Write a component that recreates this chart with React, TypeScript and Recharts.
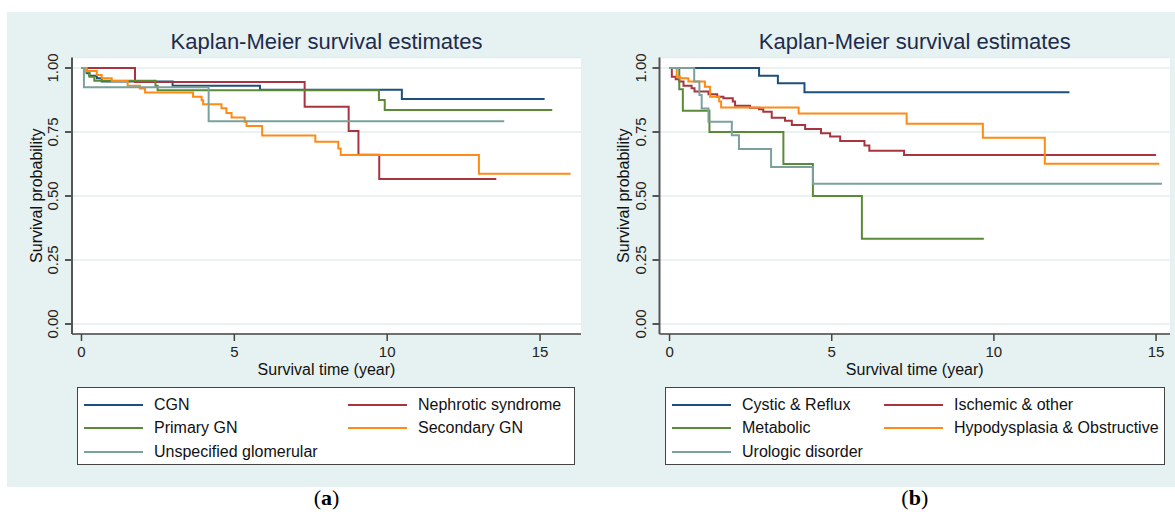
import { LineChart, Line, XAxis, YAxis, CartesianGrid, Label, Legend } from "recharts"

const xTicks = [0, 5, 10, 15]
const yTicks = [0, 0.25, 0.5, 0.75, 1]

// (a) glomerular causes
const cgnTime = [0, 0.17, 0.26, 0.5, 0.66, 2.98, 5.84, 10.48, 15.15]
const cgnSurv = [1, 0.979, 0.97, 0.96, 0.947, 0.931, 0.915, 0.879, 0.879]
const nephTime = [0, 1.75, 7.3, 8.74, 9.06, 9.74, 13.57]
const nephSurv = [1, 0.945, 0.849, 0.754, 0.661, 0.566, 0.566]
const primTime = [0, 0.17, 0.26, 0.42, 2.42, 2.49, 9.73, 9.92, 15.4]
const primSurv = [1, 0.983, 0.966, 0.95, 0.931, 0.913, 0.875, 0.836, 0.836]
const secTime = [0, 0.17, 0.5, 0.66, 0.99, 1.51, 1.91, 2.08, 3.65, 3.93, 3.98, 4.58, 4.74, 4.91, 5.34, 5.4, 5.91, 7.65, 8.4, 8.48, 13.0, 16.0]
const secSurv = [1, 0.988, 0.973, 0.96, 0.949, 0.931, 0.92, 0.904, 0.888, 0.874, 0.858, 0.843, 0.824, 0.807, 0.79, 0.773, 0.736, 0.712, 0.686, 0.66, 0.587, 0.587]
const unspTime = [0, 0.08, 4.16, 13.83]
const unspSurv = [1, 0.925, 0.792, 0.792]

// (b) other causes
const cysticTime = [0, 2.76, 3.34, 4.16, 12.33]
const cysticSurv = [1, 0.97, 0.94, 0.905, 0.905]
const ischTime = [0, 0.07, 0.19, 0.3, 0.43, 0.68, 0.77, 1.2, 1.47, 1.66, 1.95, 2.02, 2.48, 2.76, 2.89, 3.15, 3.56, 3.77, 4.18, 4.67, 4.95, 5.26, 6.01, 6.16, 7.23, 15.0]
const ischSurv = [1, 0.966, 0.956, 0.947, 0.931, 0.921, 0.908, 0.897, 0.888, 0.882, 0.869, 0.853, 0.845, 0.839, 0.829, 0.806, 0.794, 0.777, 0.762, 0.745, 0.732, 0.715, 0.697, 0.677, 0.66, 0.66]
const metabTime = [0, 0.3, 0.41, 1.23, 3.51, 4.42, 5.93, 9.69]
const metabSurv = [1, 0.917, 0.833, 0.75, 0.625, 0.5, 0.333, 0.333]
const hypoTime = [0, 0.22, 0.32, 0.58, 1.09, 1.25, 1.53, 1.59, 3.98, 7.31, 9.66, 11.57, 15.1]
const hypoSurv = [1, 0.966, 0.96, 0.947, 0.927, 0.888, 0.869, 0.846, 0.822, 0.782, 0.728, 0.626, 0.626]
const uroTime = [0, 0.76, 0.92, 0.99, 1.2, 1.92, 2.14, 3.13, 4.42, 15.18]
const uroSurv = [1, 0.947, 0.895, 0.842, 0.79, 0.737, 0.684, 0.613, 0.548, 0.548]

const BLUE = "#1b4f7d"
const RED = "#a8343f"
const GREEN = "#5a8a36"
const ORANGE = "#ff8a14"
const TEAL = "#7aa19b"

const FONT = "'Liberation Sans', Arial, sans-serif"

const pts = (time: number[], surv: number[]) => time.map((t, i) => ({ t, s: surv[i] }))

const seriesA = [
  { name: "CGN", color: BLUE, data: pts(cgnTime, cgnSurv) },
  { name: "Nephrotic syndrome", color: RED, data: pts(nephTime, nephSurv) },
  { name: "Primary GN", color: GREEN, data: pts(primTime, primSurv) },
  { name: "Secondary GN", color: ORANGE, data: pts(secTime, secSurv) },
  { name: "Unspecified glomerular", color: TEAL, data: pts(unspTime, unspSurv) },
]

const seriesB = [
  { name: "Cystic & Reflux", color: BLUE, data: pts(cysticTime, cysticSurv) },
  { name: "Ischemic & other", color: RED, data: pts(ischTime, ischSurv) },
  { name: "Metabolic", color: GREEN, data: pts(metabTime, metabSurv) },
  { name: "Hypodysplasia & Obstructive", color: ORANGE, data: pts(hypoTime, hypoSurv) },
  { name: "Urologic disorder", color: TEAL, data: pts(uroTime, uroSurv) },
]

type Series = { name: string; color: string; data: { t: number; s: number }[] }

function KMLegend({ series, left, width, col2 }: { series: Series[]; left: number; width: number; col2: number }) {
  return (
    <div
      style={{
        position: "absolute",
        left,
        top: 387,
        width,
        height: 78,
        boxSizing: "border-box",
        border: "1px solid #444",
        background: "#fff",
        fontFamily: FONT,
        fontSize: 16,
        color: "#111",
      }}
    >
      {series.map((s, i) => {
        const col = i % 2
        const row = Math.floor(i / 2)
        return (
          <div
            key={s.name}
            style={{
              position: "absolute",
              left: col === 0 ? 6 : col2,
              top: 6 + row * 23.3,
              height: 22,
              display: "flex",
              alignItems: "center",
              whiteSpace: "nowrap",
            }}
          >
            <span style={{ display: "inline-block", width: 59, height: 2, background: s.color, marginRight: 11 }} />
            <span>{s.name}</span>
          </div>
        )
      })}
    </div>
  )
}

function KMPanel({
  series,
  left,
  width,
  axisWidth,
  rightPad,
  xMax,
  col2,
  legendLeft,
  legendWidth,
  caption,
}: {
  series: Series[]
  left: number
  width: number
  axisWidth: number
  rightPad: number
  xMax: number
  col2: number
  legendLeft: number
  legendWidth: number
  caption: string
}) {
  const plotLeft = axisWidth
  const plotRight = width - rightPad
  const cx = (plotLeft + plotRight) / 2
  return (
    <div style={{ position: "absolute", left, top: 0, width, height: 518 }}>
      <div
        style={{
          position: "absolute",
          left: 0,
          width: cx * 2,
          top: 31,
          textAlign: "center",
          fontFamily: FONT,
          fontSize: 22,
          lineHeight: "22px",
          color: "#1e2b4c",
          whiteSpace: "nowrap",
        }}
      >
        Kaplan-Meier survival estimates
      </div>
      <LineChart width={width} height={518} margin={{ top: 57.5, right: rightPad, bottom: 118, left: 0 }}>
        <CartesianGrid vertical={false} horizontal stroke="#e2eded" strokeWidth={1.5} fill="#ffffff" />
        <XAxis
          type="number"
          dataKey="t"
          domain={[-0.31, xMax]}
          ticks={xTicks}
          allowDataOverflow
          height={66}
          tickSize={7}
          tickMargin={5}
          stroke="#444"
          strokeWidth={1.5}
          tick={{ fill: "#222", fontSize: 15, fontFamily: FONT }}
        >
          <Label
            value="Survival time (year)"
            position="insideBottom"
            offset={25}
            style={{ fill: "#111", fontSize: 16, fontFamily: FONT }}
          />
        </XAxis>
        <YAxis
          type="number"
          domain={[-0.039, 1.041]}
          ticks={yTicks}
          allowDataOverflow
          width={axisWidth}
          tickSize={7}
          stroke="#555"
          strokeWidth={2}
          tick={(p: any) => {
            const tx = p.x - 10
            return (
              <text
                x={tx}
                y={p.y}
                transform={`rotate(-90 ${tx} ${p.y})`}
                textAnchor="middle"
                dominantBaseline="central"
                fontSize={15}
                fontFamily={FONT}
                fill="#222"
              >
                {Number(p.payload.value).toFixed(2)}
              </text>
            )
          }}
        >
          <Label
            content={() => (
              <text
                x={plotLeft - 36}
                y={195.75}
                transform={`rotate(-90 ${plotLeft - 36} 195.75)`}
                textAnchor="middle"
                dominantBaseline="central"
                fontSize={16}
                fontFamily={FONT}
                fill="#111"
              >
                Survival probability
              </text>
            )}
          />
        </YAxis>
        {series.map((s) => (
          <Line
            key={s.name}
            name={s.name}
            data={s.data}
            dataKey="s"
            type="stepAfter"
            stroke={s.color}
            strokeWidth={2}
            dot={false}
            activeDot={false}
            isAnimationActive={false}
          />
        ))}
        <Legend
          layout="vertical"
          align="center"
          verticalAlign="middle"
          wrapperStyle={{ left: 0, top: 0, width: 0, height: 0 }}
          content={() => <KMLegend series={series} left={legendLeft} width={legendWidth} col2={col2} />}
        />
      </LineChart>
      <div
        style={{
          position: "absolute",
          left: 0,
          width: cx * 2,
          top: 487,
          textAlign: "center",
          fontFamily: "'Liberation Serif', 'Times New Roman', serif",
          fontSize: 22,
          lineHeight: "22px",
          color: "#000",
        }}
      >
        ({<b>{caption}</b>})
      </div>
    </div>
  )
}

export default function App() {
  return (
    <div style={{ position: "absolute", left: 0, top: 0, width: 1175, height: 518, background: "#fff", overflow: "hidden" }}>
      <div style={{ position: "absolute", left: 7, top: 12, width: 1168, height: 475, background: "#e6f1f1" }} />
      <KMPanel
        series={seriesA}
        left={0}
        width={590}
        axisWidth={72}
        rightPad={9}
        xMax={16.34}
        col2={270}
        legendLeft={77}
        legendWidth={498}
        caption="a"
      />
      <KMPanel
        series={seriesB}
        left={590}
        width={585}
        axisWidth={69.5}
        rightPad={5}
        xMax={15.43}
        col2={218}
        legendLeft={75}
        legendWidth={500}
        caption="b"
      />
    </div>
  )
}
